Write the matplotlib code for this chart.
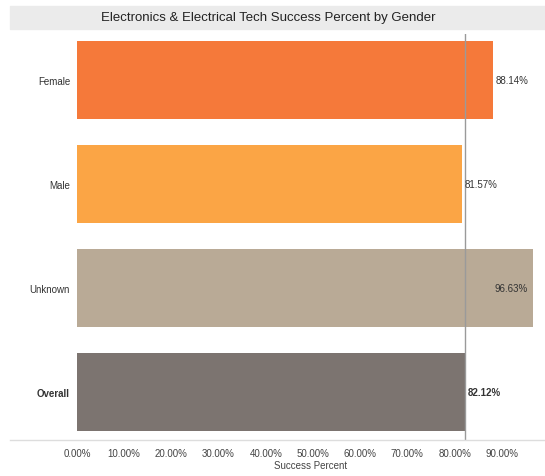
import matplotlib
matplotlib.use('Agg')
import matplotlib.pyplot as plt
from matplotlib.lines import Line2D
from matplotlib.patches import Rectangle

plt.rcParams['font.family'] = ['Liberation Sans', 'DejaVu Sans']

genders = ['Female', 'Male', 'Unknown', 'Overall']
success = [88.14, 81.57, 96.63, 82.12]
colors = ['#F5793A', '#FBA545', '#B9AA96', '#7C7470']
ticks = [0, 10, 20, 30, 40, 50, 60, 70, 80, 90]

W, H = 545, 477
fig = plt.figure(figsize=(W / 100, H / 100), dpi=100)
ax = fig.add_axes([77 / W, 1 - 441 / H, (W - 77) / W, (441 - 35) / H])

y = list(range(len(genders)))
ax.barh(y, success, height=0.75, color=colors)
xmax = (W - 77) / 4.72
ax.set_xlim(0, xmax)
ax.set_ylim(3.375 + 9 / 104, -0.375 - 7 / 104)

# overall reference line
ax.axvline(success[-1], color='#9A9A9A', lw=1)

for i, (g, v) in enumerate(zip(genders, success)):
    w = 'bold' if g == 'Overall' else 'normal'
    if v + 7 > xmax:
        # no room past the bar end, put the label inside
        ax.text(v - 1.2, i, '%.2f%%' % v, va='center', ha='right', fontsize=7,
                color='#333333', fontweight=w)
    else:
        ax.text(v + 0.6, i, '%.2f%%' % v, va='center', ha='left', fontsize=7,
                color='#333333', fontweight=w)

ax.set_yticks(y)
ax.set_yticklabels(genders, fontsize=7, color='#333333')
ax.get_yticklabels()[-1].set_fontweight('bold')
ax.set_xticks(ticks)
ax.set_xticklabels(['%.2f%%' % t for t in ticks], fontsize=7, color='#444444')
ax.tick_params(length=0, pad=6)
ax.tick_params(axis='y', pad=5)
ax.set_xlabel('Success Percent', fontsize=7, color='#444444', labelpad=1)
for s in ax.spines.values():
    s.set_visible(False)

# bottom axis rule and title band
fig.add_artist(Line2D([10 / W, 1], [1 - 441 / H, 1 - 441 / H], color='#DDDDDD', lw=1))
fig.add_artist(Rectangle((10 / W, 1 - 30 / H), (W - 10) / W, 23 / H,
                         color='#EBEBEB', zorder=0))
fig.text(268 / W, 1 - 18 / H, 'Electronics & Electrical Tech Success Percent by Gender',
         ha='center', va='center', fontsize=9.5, color='#222222')

fig.savefig('out.png', dpi=100)
